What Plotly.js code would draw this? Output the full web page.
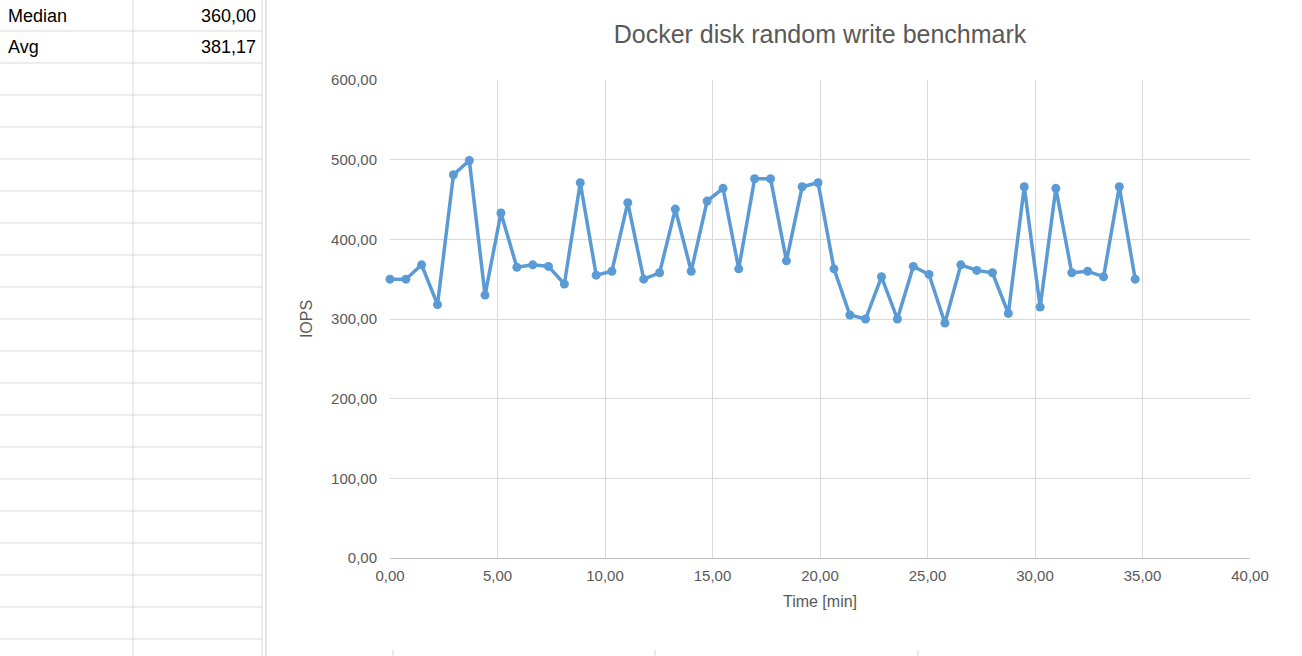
<!DOCTYPE html>
<html>
<head>
<meta charset="utf-8">
<script src="https://cdn.plot.ly/plotly-3.0.1.min.js"></script>
<style>body{margin:0;background:#fff}#chart{width:1302px;height:656px}</style>
</head>
<body>
<div id="chart"></div>
<script>
// Time [min] and IOPS
const timeMin = [0,0.74,1.47,2.21,2.95,3.69,4.42,5.16,5.9,6.64,7.37,8.11,8.85,9.59,10.32,11.06,11.8,12.54,13.27,14.01,
  14.75,15.49,16.22,16.96,17.7,18.44,19.17,19.91,20.65,21.39,22.12,22.86,23.6,24.34,25.07,25.81,26.55,27.29,28.02,28.76,
  29.5,30.24,30.97,31.71,32.45,33.19,33.92,34.66];
const iops = [350,350,368,318,481,499,330,433,365,368,366,344,471,355,360,446,350,358,438,360,
  448,464,363,476,476,373,466,471,363,305,300,353,300,366,356,295,368,361,358,307,
  466,315,464,358,360,353,466,350];
const statLabels = ['Median', 'Avg'];
const statValues = ['360,00', '381,17'];

const L = 390, R = 1250, T = 80, B = 558;
const px = x => (x - L) / (R - L);
const py = y => (B - y) / (B - T);
const gridCol = '#d9d9d9';

const shapes = [];
// spreadsheet grid on the left
for (let y = 31; y < 656; y += 32) {
  shapes.push({type:'line', xref:'paper', yref:'paper', x0:px(0), x1:px(262), y0:py(y), y1:py(y), line:{color:gridCol, width:1}});
}
[133, 262].forEach(x => shapes.push({type:'line', xref:'paper', yref:'paper', x0:px(x), x1:px(x), y0:py(0), y1:py(656), line:{color:gridCol, width:1}}));
shapes.push({type:'line', xref:'paper', yref:'paper', x0:px(266), x1:px(266), y0:py(0), y1:py(656), line:{color:'#c8c8c8', width:1}});
[393, 655, 918].forEach(x => shapes.push({type:'line', xref:'paper', yref:'paper', x0:px(x), x1:px(x), y0:py(650), y1:py(656), line:{color:gridCol, width:1}}));

const annotations = [];
statLabels.forEach((s, i) => {
  const yc = 16 + i * 31;
  annotations.push({xref:'paper', yref:'paper', x:px(6), y:py(yc), xanchor:'left', yanchor:'middle', text:s, showarrow:false, font:{size:18, color:'#000'}});
  annotations.push({xref:'paper', yref:'paper', x:px(258), y:py(yc), xanchor:'right', yanchor:'middle', text:statValues[i], showarrow:false, font:{size:18, color:'#000'}});
});

const trace = {
  x: timeMin, y: iops, type: 'scatter', mode: 'lines+markers',
  line: {color: '#5b9bd5', width: 3.5},
  marker: {color: '#5b9bd5', size: 9},
  cliponaxis: false
};

const fmt = v => v.toFixed(2).replace('.', ',');
const layout = {
  width: 1302, height: 656,
  margin: {l: L, r: 1302 - R, t: T, b: 656 - B},
  paper_bgcolor: '#fff', plot_bgcolor: '#fff',
  font: {family: 'Liberation Sans, Open Sans, sans-serif', color: '#595959', size: 15},
  showlegend: false,
  title: {text: 'Docker disk random write benchmark', font: {size: 25, color: '#595959'}, x: 0.5, xref: 'paper', y: 1 - 34 / 656, yanchor: 'middle'},
  xaxis: {
    range: [0, 40], tickvals: [0,5,10,15,20,25,30,35,40], ticktext: [0,5,10,15,20,25,30,35,40].map(fmt),
    showgrid: true, gridcolor: gridCol, zeroline: false, showline: true, linecolor: '#bfbfbf',
    ticks: '', tickfont: {size: 15, color: '#595959'}, ticklabelstandoff: 4,
    title: {text: 'Time [min]', font: {size: 16, color: '#595959'}, standoff: 12}
  },
  yaxis: {
    range: [0, 600], tickvals: [0,100,200,300,400,500,600], ticktext: [0,100,200,300,400,500,600].map(fmt),
    showgrid: true, gridcolor: gridCol, zeroline: false, showline: false,
    ticks: '', tickfont: {size: 15, color: '#595959'}, ticklabelstandoff: 12,
    title: {text: 'IOPS', font: {size: 16, color: '#595959'}, standoff: 14}
  },
  shapes, annotations
};

Plotly.newPlot('chart', [trace], layout, {displayModeBar: false, staticPlot: true});
</script>
</body>
</html>
